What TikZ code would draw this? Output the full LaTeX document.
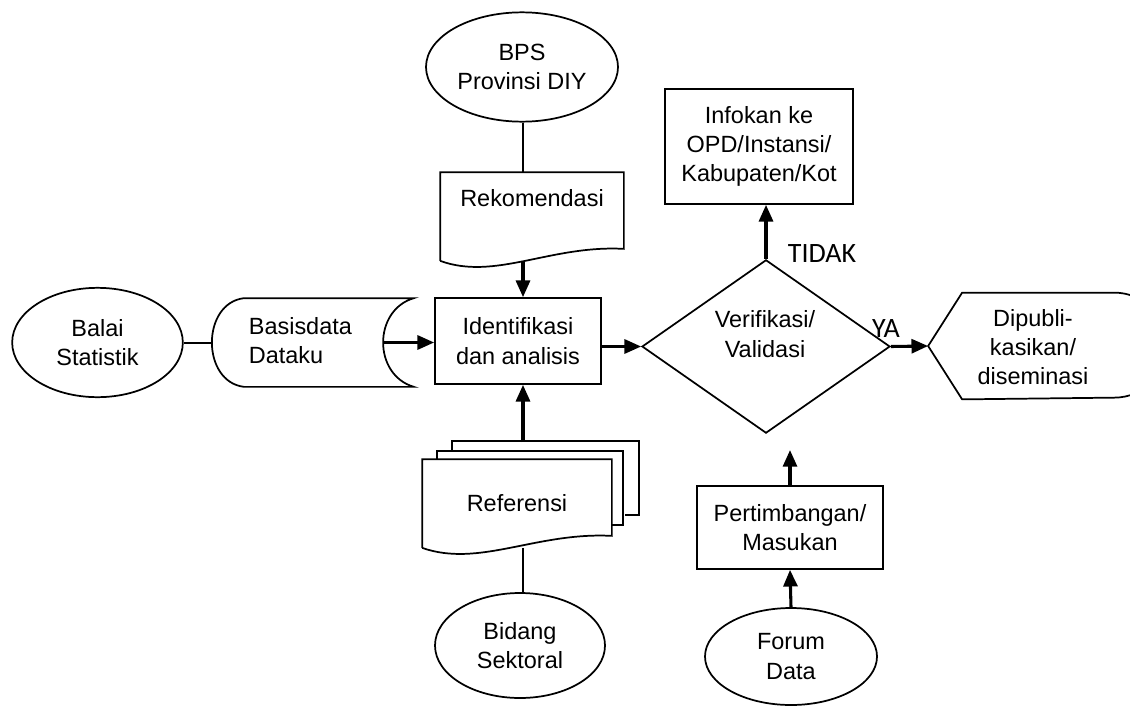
\documentclass[tikz,border=0pt]{standalone}
\usepackage{fontspec}
\setmainfont{Liberation Sans}
\newfontfamily\decfont{Carlito}
\usetikzlibrary{shapes.geometric, arrows.meta, positioning, calc}
\tikzset{
  base/.style={font=\fontsize{17.6}{22}\selectfont,align=center,line width=1.3pt,inner sep=0pt},
  source/.style={base,ellipse,draw},
  process/.style={base,rectangle,draw},
  holder/.style={base,rectangle},
  decision/.style={base,diamond,draw},
  outline/.style={line width=1.3pt,line join=miter},
  link/.style={line width=1.5pt},
  flow/.style={line width=2.3pt,-{Triangle[length=12.5pt,width=10.5pt]}},
  answer/.style={font=\decfont\fontsize{21}{24}\selectfont},
}
\newcommand{\docoutline}[1]{%
  \draw[outline] (#1.south west) -- (#1.north west) -- (#1.north east) -- ($(#1.south east)+(0,-12)$)
    .. controls ($(#1.south west)!0.6!(#1.south east)+(0,-16)$) and ($(#1.south west)!0.3!(#1.south east)+(0,20)$) .. (#1.south west);}

\begin{document}
\begin{tikzpicture}[x=0.75pt,y=-0.75pt]
    \useasboundingbox (0,0) rectangle (1130,710);
    \node[source,minimum width=144pt,minimum height=82pt] (bps) at (522,67) {BPS\\Provinsi DIY};
    \node[holder,minimum width=136.5pt,minimum height=65.25pt] (rekom) at (532,216.5) {};
    \node[base] (rekom-txt) at (532,198) {Rekomendasi};
    \node[process,minimum width=124.5pt,minimum height=64.5pt] (ident) at (518,341) {Identifikasi\\dan analisis};
    \node[source,minimum width=128pt,minimum height=82pt] (balai) at (97.5,342.5) {Balai\\Statistik};
    \node[holder,minimum width=150pt,minimum height=65.25pt] (store) at (313,342.5) {};
    \node[base,align=left,anchor=west] (store-txt) at (248,340.5) {Basisdata\\Dataku};
    \node[decision,minimum width=186pt,minimum height=130pt] (verif) at (766,346.5) {};
    \node[base] (verif-txt) at (765,334) {Verifikasi/\\Validasi};
    \node[process,minimum width=141pt,minimum height=86.25pt] (info) at (759,146.5) {Infokan ke\\OPD/Instansi/\\Kabupaten/Kot};
    \node[holder,minimum width=177.75pt,minimum height=78.75pt] (publ) at (1047.5,346) {};
    \node[base] (publ-txt) at (1033,347) {Dipubli-\\kasikan/\\diseminasi};
    \node[holder,minimum width=141pt,minimum height=65.25pt] (refer) at (517,503.5) {Referensi};
    \node[source,minimum width=127.5pt,minimum height=78.75pt] (bidang) at (520,645.5) {Bidang\\Sektoral};
    \node[process,minimum width=139.5pt,minimum height=62.25pt] (pertim) at (790,527.5) {Pertimbangan/\\Masukan};
    \node[source,minimum width=129pt,minimum height=72.75pt] (forum) at (791,656.5) {Forum\\Data};
    \node[answer] (tidak) at (822,254) {TIDAK};
    \node[answer] (ya) at (886,329) {YA};
    \coordinate (refer-top) at (523,442);

    \docoutline{rekom}
    \docoutline{refer}
    \draw[outline] ($(refer.north west)+(15,0)$) -- ++(0,-8) -- ++(186,0) -- ++(0,74) -- ($(refer.north east)+(0,66)$);
    \draw[outline] ($(refer.north west)+(30,-8)$) -- ++(0,-10) -- ++(187,0) -- ++(0,74) -- ($(refer.north east)+(13,56)$);
    \draw[outline] ($(store.north west)+(32,0)$) -- (store.north east)
      .. controls ($(store.north east)+(-41,12)$) and ($(store.south east)+(-41,-12)$) .. (store.south east)
      -- ($(store.south west)+(32,0)$)
      .. controls ($(store.south west)+(-11,-5)$) and ($(store.north west)+(-11,5)$) .. cycle;
    \draw[outline] (publ.west) -- ($(publ.north west)+(34,0)$) -- ($(publ.north east)+(-52.5,0)$)
      arc[start angle=-90,end angle=90,radius=52.5] -- ($(publ.south west)+(34,0)$) -- cycle;

    \draw[link] (bps.south -| refer-top) -- (rekom.north -| refer-top);
    \draw[flow] (rekom.south -| refer-top) -- (ident.north -| refer-top);
    \draw[flow] (refer-top) -- (ident.south -| refer-top);
    \draw[link] (refer.south -| refer-top) -- (bidang.north -| refer-top);
    \draw[link] (balai.east) -- (store.west);
    \draw[flow] ($(store.east)+(-31,0)$) -- (ident.west |- store.east);
    \draw[flow] (ident.east |- verif.west) -- (verif.west);
    \draw[flow] (verif.north) -- (verif.north |- info.south);
    \draw[flow] (verif.east) -- (publ.west);
    \draw[flow] (pertim.north) -- ($(pertim.north |- verif.south)+(0,16)$);
    \draw[flow] (forum.north) -- (pertim.south);
\end{tikzpicture}
\end{document}
